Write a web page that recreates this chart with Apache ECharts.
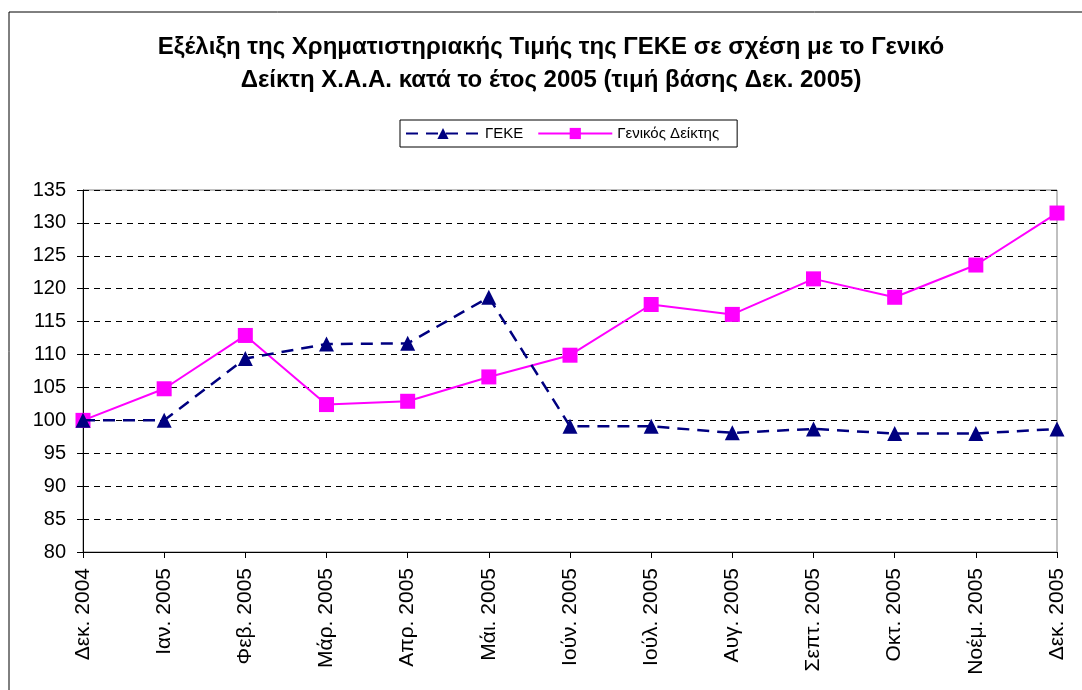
<!DOCTYPE html>
<html>
<head>
<meta charset="utf-8">
<script src="https://cdn.jsdelivr.net/npm/echarts@6/dist/echarts.min.js"></script>
<style>
  html, body { margin: 0; padding: 0; background: #fff; }
  #chart { width: 1082px; height: 690px; }
</style>
</head>
<body>
<div id="chart"></div>
<script>
var months = ['Δεκ. 2004', 'Ιαν. 2005', 'Φεβ. 2005', 'Μάρ. 2005', 'Απρ. 2005', 'Μάι. 2005',
    'Ιούν. 2005', 'Ιούλ. 2005', 'Αυγ. 2005', 'Σεπτ. 2005', 'Οκτ. 2005', 'Νοέμ. 2005', 'Δεκ. 2005'];
var geke = [100, 100, 109.4, 111.6, 111.7, 118.7, 99.1, 99.1, 98.1, 98.7, 98.0, 98.0, 98.7];
var genikos = [100, 104.8, 112.9, 102.4, 102.9, 106.6, 109.9, 117.6, 116.1, 121.5, 118.7, 123.6, 131.5];

var font = 'Liberation Sans, Arial, sans-serif';

option = {
    animation: false,
    backgroundColor: '#fff',
    textStyle: { fontFamily: font },
    title: {
        text: 'Εξέλιξη της Χρηματιστηριακής Τιμής της ΓΕΚΕ σε σχέση με το Γενικό\nΔείκτη Χ.Α.Α. κατά το έτος 2005 (τιμή βάσης Δεκ. 2005)',
        left: 546,
        textAlign: 'center',
        top: 26,
        textStyle: {
            color: '#000',
            fontSize: 24,
            fontWeight: 'bold',
            fontFamily: font,
            lineHeight: 33,
            align: 'center'
        }
    },
    graphic: [{
        type: 'rect',
        shape: { x: 9, y: 12, width: 1200, height: 800 },
        style: { fill: 'none', stroke: '#000', lineWidth: 1 },
        silent: true
    }],
    legend: {
        left: 400,
        top: 120,
        padding: [6, 18, 6, 5],
        itemGap: 14,
        itemWidth: 74,
        itemHeight: 14,
        borderColor: '#000',
        borderWidth: 1,
        textStyle: { color: '#000', fontSize: 15, fontFamily: font },
        data: ['ΓΕΚΕ', 'Γενικός Δείκτης']
    },
    grid: {
        left: 83,
        right: 25,
        top: 190,
        bottom: 138,
        show: true,
        borderColor: '#808080',
        borderWidth: 1
    },
    xAxis: {
        type: 'category',
        data: months,
        boundaryGap: false,
        axisLine: { lineStyle: { color: '#000', width: 1 } },
        axisTick: { show: true, length: 6, lineStyle: { color: '#000' } },
        axisLabel: {
            rotate: 90,
            interval: 0,
            margin: 16,
            color: '#000',
            fontSize: 21,
            fontFamily: font
        }
    },
    yAxis: {
        type: 'value',
        min: 80,
        max: 135,
        interval: 5,
        axisLine: { show: true, lineStyle: { color: '#000', width: 1 } },
        axisTick: { show: true, length: 6, lineStyle: { color: '#000' } },
        axisLabel: { color: '#000', fontSize: 20, fontFamily: font, margin: 17 },
        splitLine: {
            show: true,
            lineStyle: { color: '#000', type: [6, 5], width: 1 }
        }
    },
    series: [{
        name: 'ΓΕΚΕ',
        type: 'line',
        data: geke,
        symbol: 'triangle',
        symbolSize: 15,
        itemStyle: { color: '#000080' },
        lineStyle: { color: '#000080', width: 2.5, type: [12, 8] },
        z: 3
    }, {
        name: 'Γενικός Δείκτης',
        type: 'line',
        data: genikos,
        symbol: 'rect',
        symbolSize: 15,
        itemStyle: { color: '#ff00ff' },
        lineStyle: { color: '#ff00ff', width: 2, type: 'solid' },
        z: 2
    }]
};
var myecharts = echarts.init(document.getElementById('chart'));
myecharts.setOption(option);
</script>
</body>
</html>
